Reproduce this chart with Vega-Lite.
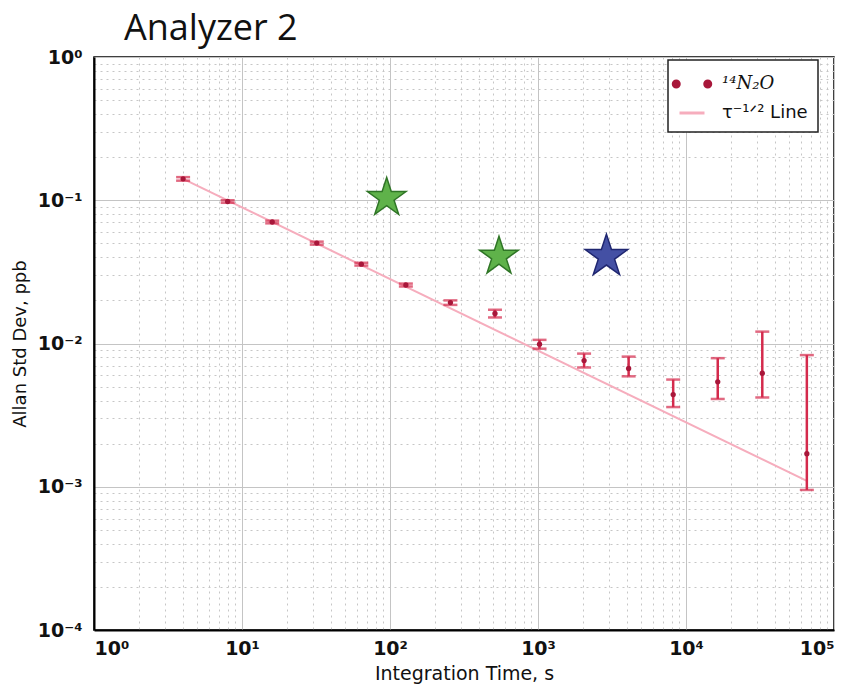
{
  "$schema": "https://vega.github.io/schema/vega-lite/v6.json",
  "autosize": {"type": "none"},
  "padding": {"left": 94, "top": 57, "right": 12, "bottom": 54},
  "width": 740,
  "height": 573,
  "background": "white",
  "title": {"text": "Analyzer 2", "anchor": "start", "frame": "group", "dx": 30, "offset": 0, "font": "Open Sans", "fontSize": 36, "fontWeight": "normal", "color": "#111"},
  "datasets": {
    "n2o": [
      {"tau": 4, "adev": 0.141, "lo": 0.137, "hi": 0.145, "series": "¹⁴N₂O"},
      {"tau": 8, "adev": 0.098, "lo": 0.096, "hi": 0.1, "series": "¹⁴N₂O"},
      {"tau": 16, "adev": 0.0705, "lo": 0.069, "hi": 0.072, "series": "¹⁴N₂O"},
      {"tau": 32, "adev": 0.0502, "lo": 0.049, "hi": 0.0514, "series": "¹⁴N₂O"},
      {"tau": 64, "adev": 0.0358, "lo": 0.035, "hi": 0.0366, "series": "¹⁴N₂O"},
      {"tau": 128, "adev": 0.0256, "lo": 0.025, "hi": 0.0262, "series": "¹⁴N₂O"},
      {"tau": 256, "adev": 0.0193, "lo": 0.0186, "hi": 0.02, "series": "¹⁴N₂O"},
      {"tau": 512, "adev": 0.0162, "lo": 0.0152, "hi": 0.0172, "series": "¹⁴N₂O"},
      {"tau": 1024, "adev": 0.0099, "lo": 0.0092, "hi": 0.0106, "series": "¹⁴N₂O"},
      {"tau": 2048, "adev": 0.0076, "lo": 0.0068, "hi": 0.0085, "series": "¹⁴N₂O"},
      {"tau": 4096, "adev": 0.0067, "lo": 0.0059, "hi": 0.0081, "series": "¹⁴N₂O"},
      {"tau": 8192, "adev": 0.0044, "lo": 0.0036, "hi": 0.0056, "series": "¹⁴N₂O"},
      {"tau": 16384, "adev": 0.0054, "lo": 0.0041, "hi": 0.0079, "series": "¹⁴N₂O"},
      {"tau": 32768, "adev": 0.0062, "lo": 0.0042, "hi": 0.0121, "series": "¹⁴N₂O"},
      {"tau": 65536, "adev": 0.0017, "lo": 0.00095, "hi": 0.0083, "series": "¹⁴N₂O"}
    ],
    "fit": [
      {"tau": 4, "adev": 0.141, "series": "τ⁻¹ᐟ² Line"},
      {"tau": 65536, "adev": 0.0011, "series": "τ⁻¹ᐟ² Line"}
    ],
    "stars": [
      {"tau": 95, "adev": 0.104, "group": "green"},
      {"tau": 545, "adev": 0.0405, "group": "green"},
      {"tau": 2900, "adev": 0.0405, "group": "blue"}
    ]
  },
  "layer": [
    {
      "data": {"name": "fit"},
      "mark": {"type": "line", "strokeWidth": 2},
      "encoding": {
        "x": {
          "field": "tau", "type": "quantitative", "title": "Integration Time, s",
          "scale": {"type": "log", "domain": [1, 100000], "nice": false},
          "axis": {
            "values": [1,2,3,4,5,6,7,8,9,10,20,30,40,50,60,70,80,90,100,200,300,400,500,600,700,800,900,1000,2000,3000,4000,5000,6000,7000,8000,9000,10000,20000,30000,40000,50000,60000,70000,80000,90000,100000],
            "labelExpr": "abs(log(datum.value)/LN10 - round(log(datum.value)/LN10)) < 0.001 ? '10' + (round(log(datum.value)/LN10) < 0 ? '⁻' : '') + ['⁰','¹','²','³','⁴','⁵'][abs(round(log(datum.value)/LN10))] : ''",
            "labelOverlap": false,
            "labelFlush": true,
            "labelFont": "DejaVu Sans", "labelFontSize": 19, "labelFontWeight": "bold", "labelColor": "#111",
            "labelPadding": 9,
            "titleFont": "DejaVu Sans", "titleFontSize": 19, "titleFontWeight": "normal", "titleColor": "#111", "titlePadding": 6,
            "ticks": false,
            "domainColor": "#000", "domainWidth": 2,
            "grid": true,
            "gridColor": {"condition": {"test": "abs(log(datum.value)/LN10 - round(log(datum.value)/LN10)) < 0.001", "value": "#c4c4c4"}, "value": "#c6c6c6"},
            "gridDash": {"condition": {"test": "abs(log(datum.value)/LN10 - round(log(datum.value)/LN10)) < 0.001", "value": []}, "value": [2, 4]},
            "gridWidth": 1
          }
        },
        "y": {
          "field": "adev", "type": "quantitative", "title": "Allan Std Dev, ppb",
          "scale": {"type": "log", "domain": [0.0001, 1], "nice": false},
          "axis": {
            "values": [0.0001,0.0002,0.0003,0.0004,0.0005,0.0006,0.0007,0.0008,0.0009,0.001,0.002,0.003,0.004,0.005,0.006,0.007,0.008,0.009,0.01,0.02,0.03,0.04,0.05,0.06,0.07,0.08,0.09,0.1,0.2,0.3,0.4,0.5,0.6,0.7,0.8,0.9,1],
            "labelExpr": "abs(log(datum.value)/LN10 - round(log(datum.value)/LN10)) < 0.001 ? '10' + (round(log(datum.value)/LN10) < 0 ? '⁻' : '') + ['⁰','¹','²','³','⁴','⁵'][abs(round(log(datum.value)/LN10))] : ''",
            "labelOverlap": false,
            "labelFlush": false,
            "labelFont": "DejaVu Sans", "labelFontSize": 19, "labelFontWeight": "bold", "labelColor": "#111",
            "labelPadding": 12,
            "titleFont": "DejaVu Sans", "titleFontSize": 18, "titleFontWeight": "normal", "titleColor": "#111", "titlePadding": 8,
            "ticks": false,
            "domainColor": "#000", "domainWidth": 2,
            "grid": true,
            "gridColor": {"condition": {"test": "abs(log(datum.value)/LN10 - round(log(datum.value)/LN10)) < 0.001", "value": "#c4c4c4"}, "value": "#c6c6c6"},
            "gridDash": {"condition": {"test": "abs(log(datum.value)/LN10 - round(log(datum.value)/LN10)) < 0.001", "value": []}, "value": [2, 4]},
            "gridWidth": 1
          }
        },
        "color": {
          "field": "series", "type": "nominal",
          "scale": {"domain": ["¹⁴N₂O", "τ⁻¹ᐟ² Line"], "range": ["#a8173a", "#f6adbd"]},
          "legend": {
            "title": null,
            "orient": "none", "legendX": 574, "legendY": 3,
            "strokeColor": "#222", "fillColor": "white",
            "padding": 10, "rowPadding": 6,
            "labelFont": "DejaVu Serif", "labelFontSize": 18, "labelColor": "#111", "labelOffset": 16,
            "symbolSize": 625,
            "encode": {
              "legend": {"update": {"strokeWidth": {"value": 1.5}}},
              "symbols": {"update": {
                "shape": {"signal": "datum.value === '¹⁴N₂O' ? 'M-1.5,0 a0.24,0.24 0 1,0 0.48,0 a0.24,0.24 0 1,0 -0.48,0 M1.02,0 a0.24,0.24 0 1,0 0.48,0 a0.24,0.24 0 1,0 -0.48,0' : 'stroke'"},
                "fill": {"signal": "datum.value === '¹⁴N₂O' ? '#b01a3c' : 'transparent'"},
                "stroke": {"signal": "datum.value === '¹⁴N₂O' ? 'transparent' : '#f6adbd'"},
                "strokeWidth": {"value": 3},
                "opacity": {"value": 1}
              }},
              "labels": {"update": {
                "font": {"signal": "datum.value === '¹⁴N₂O' ? 'DejaVu Serif' : 'DejaVu Sans'"},
                "fontStyle": {"signal": "datum.value === '¹⁴N₂O' ? 'italic' : 'normal'"}
              }}
            }
          }
        }
      }
    },
    {
      "data": {"name": "n2o"},
      "mark": {"type": "errorbar", "ticks": {"size": 14}, "thickness": 2.5, "color": "#d42a4c"},
      "encoding": {
        "x": {"field": "tau", "type": "quantitative", "title": "Integration Time, s"},
        "y": {"field": "lo", "type": "quantitative", "title": "Allan Std Dev, ppb"},
        "y2": {"field": "hi"}
      }
    },
    {
      "data": {"name": "n2o"},
      "mark": {"type": "point", "filled": true, "size": 28, "opacity": 1},
      "encoding": {
        "x": {"field": "tau", "type": "quantitative", "title": "Integration Time, s"},
        "y": {"field": "adev", "type": "quantitative", "title": "Allan Std Dev, ppb"},
        "color": {"field": "series", "type": "nominal"}
      }
    },
    {
      "data": {"name": "stars"},
      "mark": {"type": "point", "filled": true, "opacity": 1, "strokeWidth": 1.5, "shape": "M0,-1 L0.2245,-0.309 L0.951,-0.309 L0.363,0.118 L0.588,0.809 L0,0.382 L-0.588,0.809 L-0.363,0.118 L-0.951,-0.309 L-0.2245,-0.309 Z"},
      "encoding": {
        "x": {"field": "tau", "type": "quantitative", "title": "Integration Time, s"},
        "y": {"field": "adev", "type": "quantitative", "title": "Allan Std Dev, ppb"},
        "fill": {"field": "group", "type": "nominal", "scale": {"domain": ["green", "blue"], "range": ["#5fb24a", "#4450a4"]}, "legend": null},
        "stroke": {"field": "group", "type": "nominal", "scale": {"domain": ["green", "blue"], "range": ["#2f7526", "#1f2670"]}, "legend": null},
        "size": {"field": "group", "type": "nominal", "scale": {"domain": ["green", "blue"], "range": [1650, 2000]}, "legend": null}
      }
    }
  ],
  "config": {
    "view": {"stroke": "#000", "strokeWidth": 1.5},
    "font": "DejaVu Sans"
  }
}
